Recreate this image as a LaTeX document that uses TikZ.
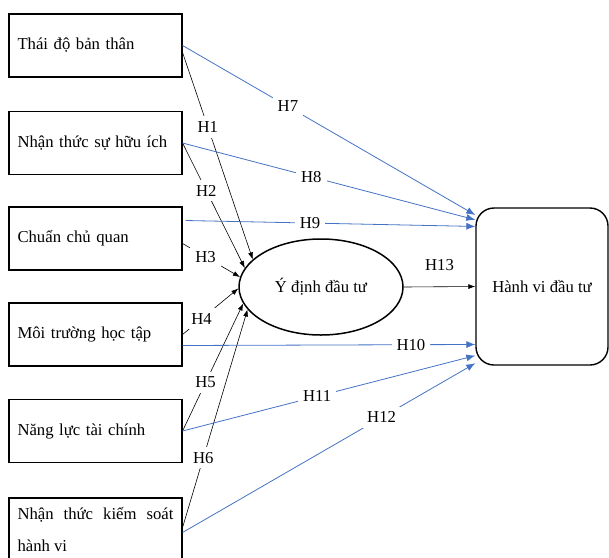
\documentclass[tikz,border=0pt]{standalone}
\usepackage{fontspec}
\setmainfont{Liberation Serif}
\usetikzlibrary{arrows.meta,shapes.geometric}
\definecolor{hblue}{RGB}{68,114,196}

\begin{document}
\begin{tikzpicture}[x=1pt,y=-1pt,
  factor/.style={draw, line width=1.1pt, text width=156pt, align=left, minimum height=63pt, inner xsep=8.5pt, font=\fontsize{16.7}{20}\selectfont},
  hyp/.style={fill=white, inner sep=5pt, font=\fontsize{16.7}{20}\selectfont},
  toint/.style={-{Latex[length=7pt,width=5pt]}, line width=0.6pt},
  tobeh/.style={-{Latex[length=9pt,width=7pt]}, draw=hblue, line width=0.8pt}]
\useasboundingbox (0,0) rectangle (609,557);

\node[factor] (a) at (95.5,45.5) {Thái độ bản thân};
\node[factor] (b) at (95.5,143) {Nhận thức sự hữu ích};
\node[factor] (c) at (95.5,238.5) {Chuẩn chủ quan};
\node[factor] (d) at (95.5,334.5) {Môi trường học tập};
\node[factor] (e) at (95.5,431) {Năng lực tài chính};
\node[factor, align=justify, font=\fontsize{16.7}{32}\selectfont] (f) at (95.5,529.5) {Nhận thức kiểm soát hành vi};

\node[draw, ellipse, line width=1.5pt, minimum width=164pt, minimum height=96pt, font=\fontsize{16.7}{20}\selectfont] (i) at (321,287) {Ý định đầu tư};
\node[draw, rounded corners=18pt, line width=1.4pt, minimum width=132pt, minimum height=157pt, font=\fontsize{16.7}{20}\selectfont] (g) at (542,286.5) {Hành vi đầu tư};

\draw[toint] ([yshift=-7pt]a.east) -- node[hyp, pos=0.36] {H1} (i.158);
\draw[toint] (b.east) -- node[hyp, pos=0.38] {H2} (i.166);
\draw[toint] ([yshift=-5pt]c.east) -- node[hyp, pos=0.4] {H3} (i.173);
\draw[toint] (d.east) -- node[hyp, pos=0.34] {H4} (i.181);
\draw[toint] (e.east) -- node[hyp, pos=0.38] {H5} (i.192);
\draw[toint] ([yshift=2pt]f.east) -- node[hyp, pos=0.32] {H6} (i.197);

\draw[tobeh] (a.east) -- node[hyp, pos=0.36] {H7} (g.133);
\draw[tobeh] (b.east) -- node[hyp, pos=0.44] {H8} (g.135);
\draw[tobeh] ([xshift=3pt,yshift=18pt]c.east) -- node[hyp, pos=0.43] {H9} (g.138);
\draw[tobeh] ([yshift=-11pt]d.east) -- node[hyp, pos=0.78] {H10} (g.221);
\draw[tobeh] (e.east) -- node[hyp, pos=0.46] {H11} (g.226);
\draw[tobeh] ([yshift=-3pt]f.east) -- node[hyp, pos=0.68] {H12} (g.229);

\draw[toint] (i.east) -- node[above=12pt, font=\fontsize{16.7}{20}\selectfont] {H13} (g.west);
\end{tikzpicture}
\end{document}
